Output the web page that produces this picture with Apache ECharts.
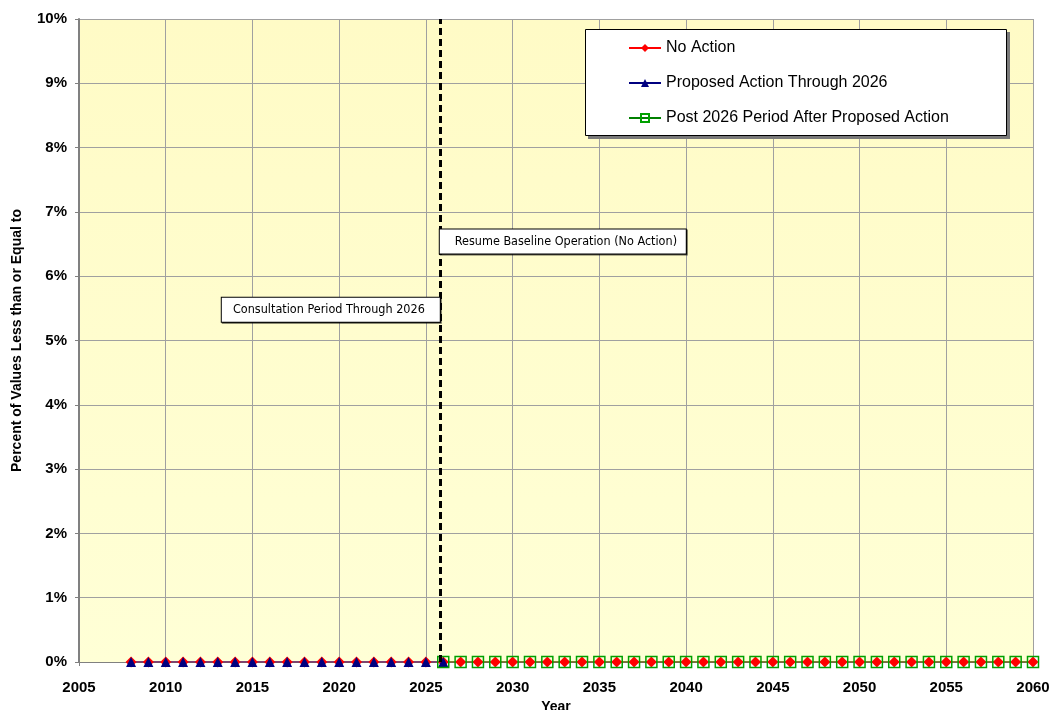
<!DOCTYPE html>
<html>
<head>
<meta charset="utf-8">
<script src="https://cdn.jsdelivr.net/npm/echarts@6/dist/echarts.min.js"></script>
<style>
  html, body { margin: 0; padding: 0; background: #fff; }
  #chart { width: 1051px; height: 710px; }
</style>
</head>
<body>
<div id="chart"></div>
<script>
// years per series
const noActionYears = [2008, 2009, 2010, 2011, 2012, 2013, 2014, 2015, 2016, 2017, 2018, 2019, 2020, 2021, 2022, 2023, 2024, 2025, 2026,
  2027, 2028, 2029, 2030, 2031, 2032, 2033, 2034, 2035, 2036, 2037, 2038, 2039, 2040, 2041, 2042, 2043, 2044, 2045, 2046, 2047, 2048,
  2049, 2050, 2051, 2052, 2053, 2054, 2055, 2056, 2057, 2058, 2059, 2060]
const noActionValues = [0, 0, 0, 0, 0, 0, 0, 0, 0, 0, 0, 0, 0, 0, 0, 0, 0, 0, 0,
  0, 0, 0, 0, 0, 0, 0, 0, 0, 0, 0, 0, 0, 0, 0, 0, 0, 0, 0, 0, 0, 0,
  0, 0, 0, 0, 0, 0, 0, 0, 0, 0, 0, 0]

const proposedYears = [2008, 2009, 2010, 2011, 2012, 2013, 2014, 2015, 2016, 2017, 2018, 2019, 2020, 2021, 2022, 2023, 2024, 2025, 2026]
const proposedValues = [0, 0, 0, 0, 0, 0, 0, 0, 0, 0, 0, 0, 0, 0, 0, 0, 0, 0, 0]

const postYears = [2026, 2027, 2028, 2029, 2030, 2031, 2032, 2033, 2034, 2035, 2036, 2037, 2038, 2039, 2040, 2041, 2042, 2043, 2044,
  2045, 2046, 2047, 2048, 2049, 2050, 2051, 2052, 2053, 2054, 2055, 2056, 2057, 2058, 2059, 2060]
const postValues = [0, 0, 0, 0, 0, 0, 0, 0, 0, 0, 0, 0, 0, 0, 0, 0, 0, 0, 0,
  0, 0, 0, 0, 0, 0, 0, 0, 0, 0, 0, 0, 0, 0, 0, 0]

// 分隔线位置 / 注释框
const splitYear = 2025.8
const noteLeft = { text: 'Consultation Period Through 2026', x: 2025.8, y: 5.48 }
const noteRight = { text: 'Resume Baseline Operation (No Action)', x: 2025.8, y: 6.54 }

const zip = (xs, ys) => xs.map((x, i) => [x, ys[i]])

const FONT = "'Liberation Sans', Arial, sans-serif"
const NARROW = "'Liberation Sans Narrow', 'DejaVu Sans Condensed', 'Liberation Sans', sans-serif"

const noteLabel = (pos, align, w) => ({
  show: true, position: pos, distance: 0,
  width: w, align: align, overflow: 'none',
  fontFamily: NARROW, fontSize: 12.5, color: '#000',
  backgroundColor: '#fff', borderColor: '#000', borderWidth: 1,
  padding: [6, 15, 5, 15],
  shadowColor: 'rgba(0,0,0,0.6)', shadowOffsetX: 1, shadowOffsetY: 1,
})

const chart = echarts.init(document.getElementById('chart'))
chart.setOption({
  animation: false,
  grid: {
    left: 79, right: 18, top: 19, bottom: 48, show: true, borderWidth: 0,
    outerBoundsMode: 'none', containLabel: false,
    backgroundColor: new echarts.graphic.LinearGradient(0, 0, 0, 1, [
      { offset: 0, color: '#FFFBC6' }, { offset: 1, color: '#FFFFD6' }
    ]),
  },
  // 图例框：阴影 + 白底黑边
  graphic: [
    { type: 'rect', z: 1, shape: { x: 588, y: 32, width: 422, height: 107 }, style: { fill: '#7a7a7a' } },
    { type: 'rect', z: 2, shape: { x: 585.5, y: 29.5, width: 421, height: 106 }, style: { fill: '#fff', stroke: '#000', lineWidth: 1 } },
  ],
  legend: {
    left: 585, top: 29, orient: 'vertical', z: 10,
    padding: [11, 40, 10, 43], itemGap: 19, itemWidth: 32, itemHeight: 10,
    textStyle: { fontFamily: FONT, fontSize: 16, color: '#000' },
    data: ['No Action', 'Proposed Action Through 2026', 'Post 2026 Period After Proposed Action'],
  },
  xAxis: {
    type: 'value', min: 2005, max: 2060, interval: 5,
    name: 'Year', nameLocation: 'middle', nameGap: 32,
    nameTextStyle: { fontFamily: FONT, fontSize: 14, fontWeight: 'bold', color: '#000' },
    axisLine: { show: true, lineStyle: { color: '#808080', width: 1 } },
    axisTick: { show: true, length: 4, lineStyle: { color: '#808080' } },
    axisLabel: { fontFamily: FONT, fontSize: 15, fontWeight: 'bold', color: '#000', margin: 18, formatter: v => String(v) },
    splitLine: { show: true, lineStyle: { color: '#A0A0A0', width: 1 } },
  },
  yAxis: {
    type: 'value', min: 0, max: 10, interval: 1,
    name: 'Percent of Values Less than or Equal to', nameLocation: 'middle', nameGap: 55,
    nameTextStyle: { fontFamily: FONT, fontSize: 14, fontWeight: 'bold', color: '#000' },
    axisLine: { show: true, lineStyle: { color: '#808080', width: 2 } },
    axisTick: { show: true, length: 4, lineStyle: { color: '#808080' } },
    axisLabel: { fontFamily: FONT, fontSize: 15, fontWeight: 'bold', color: '#000', margin: 12, formatter: '{value}%' },
    splitLine: { show: true, lineStyle: { color: '#A0A0A0', width: 1 } },
  },
  series: [
    {
      name: 'No Action', type: 'line', data: zip(noActionYears, noActionValues),
      symbol: 'diamond', symbolSize: 11, showAllSymbol: true,
      lineStyle: { color: '#FF0000', width: 1 },
      itemStyle: { color: '#FF0000' },
      markLine: {
        silent: true, symbol: ['none', 'none'], label: { show: false },
        lineStyle: { color: '#000', type: [7, 4], width: 3 },
        data: [{ xAxis: splitYear }],
      },
      markPoint: {
        symbol: 'rect', symbolSize: 0, silent: true,
        data: [
          { coord: [noteLeft.x, noteLeft.y], value: noteLeft.text, label: noteLabel('left', 'right', 188) },
          { coord: [noteRight.x, noteRight.y], value: noteRight.text, label: noteLabel('right', 'left', 216) },
        ],
      },
    },
    {
      name: 'Proposed Action Through 2026', type: 'line', data: zip(proposedYears, proposedValues),
      symbol: 'triangle', symbolSize: 10, showAllSymbol: true,
      lineStyle: { color: '#000080', width: 1 },
      itemStyle: { color: '#000080' },
    },
    {
      name: 'Post 2026 Period After Proposed Action', type: 'line', data: zip(postYears, postValues),
      symbol: 'rect', symbolSize: 11, showAllSymbol: true,
      lineStyle: { color: '#008000', width: 1 },
      itemStyle: { color: 'rgba(255,255,255,0)', borderColor: '#00A000', borderWidth: 1.5 },
    },
  ],
})
</script>
</body>
</html>
